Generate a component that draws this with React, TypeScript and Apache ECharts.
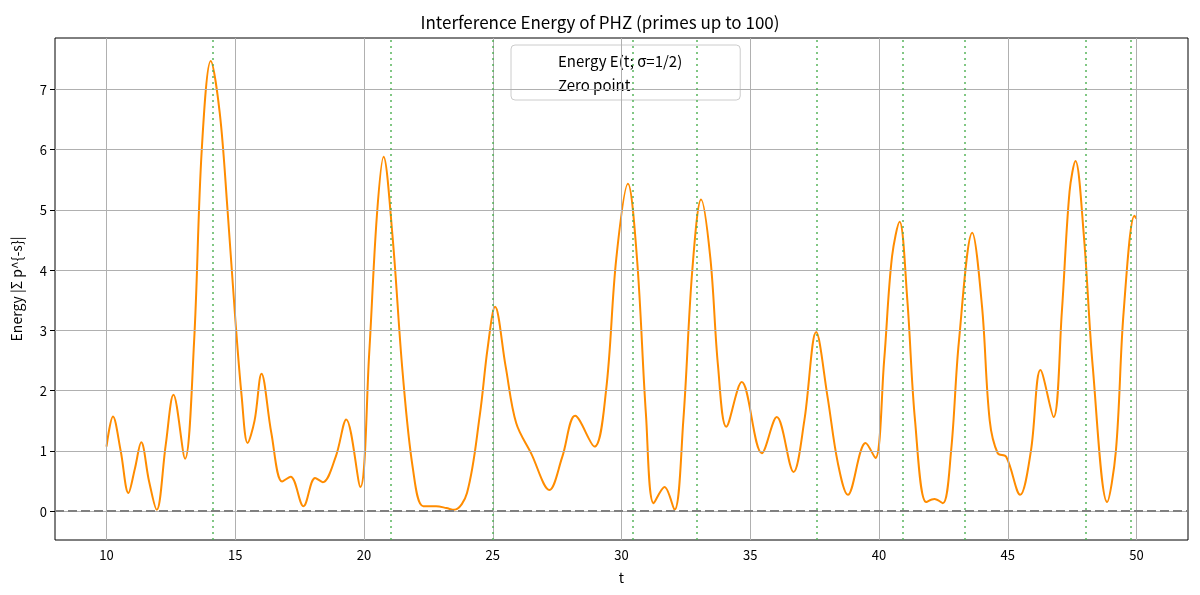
import { useEffect, useRef } from "react";
import * as echarts from "echarts";

// energy curve key points
const tVals = [
  10, 10.25, 10.55, 10.85, 11.1, 11.35, 11.65, 11.95, 12.3, 12.6, 13.05, 13.4, 13.7, 14.05, 14.4, 14.7, 15.0, 15.25, 15.48,
  15.75, 16.02, 16.4, 16.82, 17.15, 17.65, 18.1, 18.4, 18.9, 19.31, 19.86, 20.2, 20.5, 20.76, 21.1, 21.5, 21.9, 22.3,
  22.8, 23.2, 23.5, 24.0, 24.5, 24.8, 25.09, 25.5, 25.91, 26.5, 27.2, 27.7, 28.2, 28.95, 29.4, 29.8, 30.25, 30.6, 30.95,
  31.25, 31.67, 32.06, 32.4, 32.75, 33.09, 33.45, 33.75, 34.07, 34.67, 35.45, 36.03, 36.68, 37.1, 37.56, 38.0, 38.4,
  38.79, 39.48, 39.86, 40.2, 40.5, 40.8, 41.1, 41.4, 41.83, 42.15, 42.48, 42.8, 43.1, 43.62, 44.0, 44.3, 44.61, 44.94,
  45.48, 45.9, 46.27, 46.78, 47.1, 47.4, 47.63, 47.95, 48.3, 48.86, 49.2, 49.5, 49.92, 50,
];
const energy = [
  1.07, 1.57, 1.0, 0.3, 0.7, 1.14, 0.5, 0.02, 1.1, 1.93, 0.87, 2.8, 6.0, 7.47, 6.6, 5.0, 3.2, 1.9, 1.13,
  1.5, 2.28, 1.3, 0.49, 0.57, 0.08, 0.55, 0.48, 0.9, 1.52, 0.4, 2.6, 4.9, 5.88, 4.6, 2.3, 0.7, 0.08,
  0.08, 0.05, 0.02, 0.3, 1.6, 2.7, 3.39, 2.4, 1.46, 0.95, 0.35, 0.9, 1.58, 1.07, 2.0, 4.2, 5.43, 4.2, 1.6,
  0.13, 0.4, 0.02, 1.5, 4.0, 5.17, 4.2, 2.4, 1.4, 2.14, 0.96, 1.56, 0.65, 1.5, 2.97, 1.9, 0.8,
  0.27, 1.13, 0.88, 2.5, 4.2, 4.8, 3.5, 1.5, 0.15, 0.2, 0.13, 1.0, 2.8, 4.62, 3.4, 1.5, 0.96, 0.9,
  0.27, 1.0, 2.34, 1.56, 3.3, 5.3, 5.81, 4.6, 2.4, 0.15, 1.0, 3.3, 4.9, 4.85,
];
const zeroPoints = [14.13, 21.02, 25.01, 30.42, 32.94, 37.59, 40.92, 43.33, 48.01, 49.77];
const xTicks = [10, 15, 20, 25, 30, 35, 40, 45, 50];
const yTicks = [0, 1, 2, 3, 4, 5, 6, 7];

const font = "'Noto Sans CJK JP', 'DejaVu Sans', sans-serif";

export default function App() {
  const ref = useRef<HTMLDivElement>(null);
  useEffect(() => {
    if (!ref.current) return;
    const chart = echarts.init(ref.current, null, { renderer: "svg" });
    const grey = { color: "#b0b0b0", width: 1, type: "solid" as const };
    chart.setOption({
      animation: false,
      textStyle: { fontFamily: font },
      title: {
        text: "Interference Energy of PHZ (primes up to 100)",
        left: "center",
        top: 8,
        textStyle: { fontFamily: font, fontSize: 17, fontWeight: "normal", color: "#000" },
      },
      legend: {
        left: 511,
        top: 45,
        orient: "vertical",
        backgroundColor: "rgba(255,255,255,0.85)",
        borderColor: "#ccc",
        borderWidth: 1,
        borderRadius: 4,
        padding: [8, 58, 8, 6],
        itemGap: 9,
        itemWidth: 36,
        itemHeight: 12,
        textStyle: { fontFamily: font, fontSize: 15, color: "#000" },
        data: [
          { name: "Energy E(t; σ=1/2)", icon: "none" },
          { name: "Zero point", icon: "none" },
        ],
      },
      grid: {
        left: 55, right: 12, top: 38, bottom: 55,
        show: true, borderColor: "#000", borderWidth: 1, backgroundColor: "#fff",
      },
      xAxis: {
        type: "value", min: 8, max: 52,
        name: "t", nameLocation: "middle", nameGap: 30,
        nameTextStyle: { fontFamily: font, fontSize: 14, color: "#000" },
        axisLine: { show: false },
        axisTick: { show: true, customValues: xTicks, length: 5, inside: false, lineStyle: { color: "#000" } },
        axisLabel: { customValues: xTicks, fontFamily: font, fontSize: 13, color: "#000", margin: 8 },
        splitLine: { show: false },
      },
      yAxis: {
        type: "value", min: -0.48, max: 7.85,
        name: "Energy |Σ p^{-s}|", nameLocation: "middle", nameGap: 32,
        nameTextStyle: { fontFamily: font, fontSize: 14, color: "#000" },
        axisLine: { show: false },
        axisTick: { show: true, customValues: yTicks, length: 5, lineStyle: { color: "#000" } },
        axisLabel: { customValues: yTicks, fontFamily: font, fontSize: 13, color: "#000", margin: 8 },
        splitLine: { show: false },
      },
      series: [
        {
          name: "grid",
          type: "line",
          data: [],
          silent: true,
          z: 1,
          markLine: {
            symbol: "none", silent: true, label: { show: false }, lineStyle: grey,
            data: [...xTicks.map((x) => ({ xAxis: x })), ...yTicks.map((y) => ({ yAxis: y }))],
          },
        },
        {
          name: "baseline",
          type: "line",
          data: [],
          silent: true,
          z: 2,
          markLine: {
            symbol: "none", silent: true, label: { show: false },
            lineStyle: { color: "#808080", width: 2.2, type: [9, 4] },
            data: [{ yAxis: 0 }],
          },
        },
        {
          name: "Energy E(t; σ=1/2)",
          type: "line",
          data: tVals.map((t, i) => [t, energy[i]]),
          smooth: 0.35,
          symbol: "none",
          showSymbol: false,
          lineStyle: { color: "#ff8c00", width: 2 },
          itemStyle: { color: "#ff8c00" },
          z: 4,
        },
        {
          name: "Zero point",
          type: "line",
          data: [],
          symbol: "none",
          lineStyle: { color: "#4caf50", width: 2, type: [2, 4], opacity: 0.75 },
          itemStyle: { color: "#4caf50" },
          z: 3,
          markLine: {
            symbol: "none", silent: true, label: { show: false },
            lineStyle: { color: "#4caf50", width: 2, type: [2, 4], opacity: 0.7 },
            data: zeroPoints.map((z) => ({ xAxis: z })),
          },
        },
      ],
    });
    return () => chart.dispose();
  }, []);
  return <div ref={ref} style={{ position: "fixed", left: 0, top: 0, width: 1200, height: 595 }} />;
}
